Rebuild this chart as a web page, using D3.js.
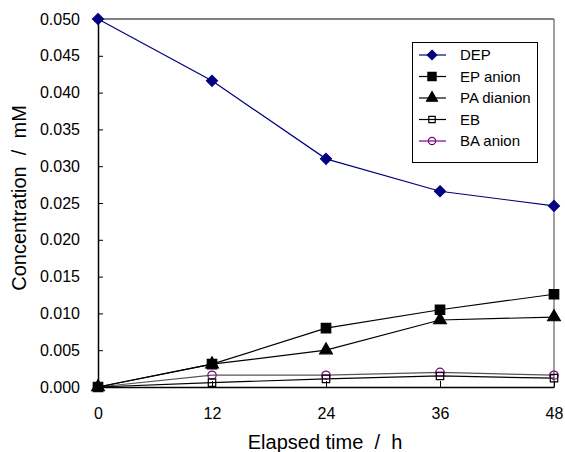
<!DOCTYPE html>
<html><head><meta charset="utf-8">
<script src="https://cdn.jsdelivr.net/npm/d3@7"></script>
<style>body{margin:0;background:#fff}svg{display:block;font-family:Arial,"Liberation Sans",sans-serif}</style>
</head><body><svg id="c" width="565" height="452"></svg>
<script>
const times = [0, 12, 24, 36, 48];
const dep = [0.0500, 0.0416, 0.0310, 0.0266, 0.0246];
const epAnion = [0.0000, 0.0031, 0.0080, 0.0105, 0.0126];
const paDianion = [0.0000, 0.0031, 0.0050, 0.0091, 0.0095];
const eb = [0.0000, 0.0006, 0.0011, 0.0015, 0.0012];
const baAnion = [0.0000, 0.0016, 0.0016, 0.0020, 0.0016];
const yTicks = [0, 0.005, 0.01, 0.015, 0.02, 0.025, 0.03, 0.035, 0.04, 0.045, 0.05];
const seriesNames = ["DEP", "EP anion", "PA dianion", "EB", "BA anion"];

const diamond = {draw(ctx, size) { const r = Math.sqrt(size / 2); ctx.moveTo(0, -r); ctx.lineTo(r, 0); ctx.lineTo(0, r); ctx.lineTo(-r, 0); ctx.closePath(); }};

const series = [
  {name: seriesNames[0], values: dep, color: "#000080", line: "#000080", sym: diamond, fill: "#000080", size: 60},
  {name: seriesNames[1], values: epAnion, color: "#000", line: "#000", sym: d3.symbolSquare, fill: "#000", size: 90},
  {name: seriesNames[2], values: paDianion, color: "#000", line: "#000", sym: d3.symbolTriangle, fill: "#000", size: 70},
  {name: seriesNames[3], values: eb, color: "#000", line: "#000", sym: d3.symbolSquare, fill: "none", size: 55},
  {name: seriesNames[4], values: baAnion, color: "#800080", line: "#555", sym: d3.symbolCircle, fill: "none", size: 55}
];

const svg = d3.select("#c");
const L = 98, R = 554, T = 19, B = 387;
const x = d3.scaleLinear().domain([0, 48]).range([L, R]);
const y = d3.scaleLinear().domain([0, 0.05]).range([B, T]);

svg.append("line").attr("x1", L).attr("x2", R).attr("y1", T).attr("y2", T).attr("stroke", "#000").attr("stroke-width", 1.2);
svg.append("line").attr("x1", R).attr("x2", R).attr("y1", T).attr("y2", B).attr("stroke", "#808080").attr("stroke-width", 1.5);

const yAxis = svg.append("g").attr("transform", `translate(${L},0)`)
  .call(d3.axisLeft(y).tickValues(yTicks).tickFormat(d3.format(".3f")).tickSizeInner(-5).tickSizeOuter(0).tickPadding(18));
const xAxis = svg.append("g").attr("transform", `translate(0,${B})`)
  .call(d3.axisBottom(x).tickValues(times).tickFormat(d3.format("d")).tickSizeInner(-6).tickSizeOuter(0).tickPadding(18));
[yAxis, xAxis].forEach(g => {
  g.select(".domain").attr("stroke", "#000").attr("stroke-width", 1.5);
  g.selectAll(".tick line").attr("stroke", "#000");
  g.selectAll("text").attr("font-size", 16).attr("fill", "#000").attr("font-family", "Arial, 'Liberation Sans', sans-serif");
});
xAxis.selectAll(".tick text").attr("dy", "0.85em");

const line = d3.line().x((d, i) => x(times[i])).y(d => y(d));
series.slice().reverse().forEach(s => {
  svg.append("path").datum(s.values).attr("d", line).attr("fill", "none").attr("stroke", s.line).attr("stroke-width", 1.2);
});
series.slice().reverse().forEach(s => {
  svg.selectAll(null).data(s.values).enter().append("path")
    .attr("d", d3.symbol().type(s.sym).size(s.size))
    .attr("transform", (d, i) => `translate(${x(times[i])},${y(d)})`)
    .attr("fill", s.fill).attr("stroke", s.color).attr("stroke-width", 1.2);
});

const lg = svg.append("g");
lg.append("rect").attr("x", 412.5).attr("y", 42.5).attr("width", 125).attr("height", 120).attr("fill", "#fff").attr("stroke", "#000");
series.forEach((s, i) => {
  const yy = 55 + i * 21.5;
  lg.append("line").attr("x1", 419).attr("x2", 446).attr("y1", yy).attr("y2", yy).attr("stroke", s.color).attr("stroke-width", 1.2);
  lg.append("path").attr("d", d3.symbol().type(s.sym).size(s.size * 0.75)).attr("transform", `translate(432,${yy})`)
    .attr("fill", s.fill).attr("stroke", s.color).attr("stroke-width", 1.2);
  lg.append("text").attr("x", 460).attr("y", yy).attr("dy", "0.35em").attr("font-size", 15).text(s.name);
});

svg.append("text").attr("transform", "translate(26,198) rotate(-90)").attr("text-anchor", "middle").attr("font-size", 20).attr("xml:space", "preserve").text("Concentration  /  mM");
svg.append("text").attr("x", 325).attr("y", 449).attr("text-anchor", "middle").attr("font-size", 20).attr("xml:space", "preserve").text("Elapsed time  /  h");
</script></body></html>
